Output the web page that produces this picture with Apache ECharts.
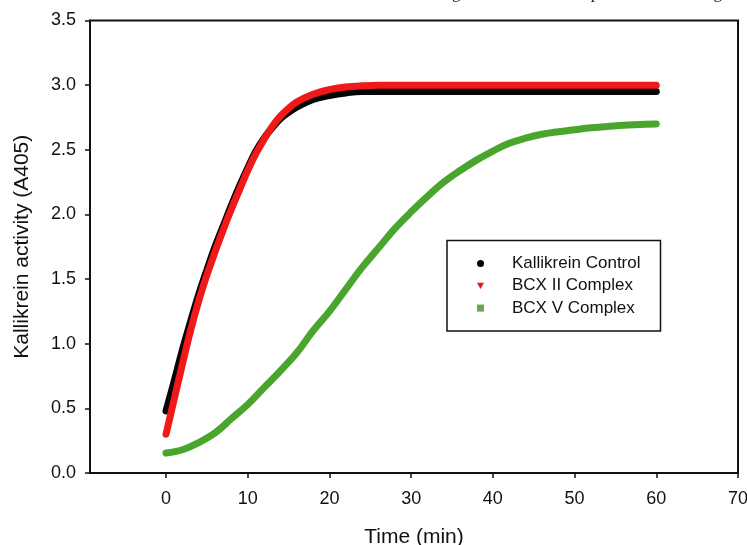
<!DOCTYPE html>
<html>
<head>
<meta charset="utf-8">
<script src="https://cdn.jsdelivr.net/npm/echarts@6/dist/echarts.min.js"></script>
<style>
html,body{margin:0;padding:0;background:#fff;}
#c{width:747px;height:545px;}
</style>
</head>
<body>
<div id="c"></div>
<script>
// ---- data ----
const xTicks = [0, 10, 20, 30, 40, 50, 60, 70];
const yTicks = [0, 0.5, 1.0, 1.5, 2.0, 2.5, 3.0, 3.5];
const seriesNames = ['Kallikrein Control', 'BCX II Complex', 'BCX V Complex'];

const timeFast = [0, 1, 2, 3, 4, 5, 6, 7, 8, 9, 10, 11, 12, 13, 14, 15, 16, 18, 20, 22, 24, 26, 30, 40, 50, 60];
const controlValues = [0.48, 0.71, 0.95, 1.17, 1.38, 1.57, 1.75, 1.91, 2.07, 2.22, 2.36, 2.49, 2.59, 2.67, 2.74, 2.79, 2.83, 2.89, 2.92, 2.94, 2.95, 2.95, 2.95, 2.95, 2.95, 2.95];
const bcx2Values    = [0.30, 0.57, 0.84, 1.10, 1.33, 1.53, 1.71, 1.88, 2.04, 2.19, 2.34, 2.47, 2.58, 2.68, 2.76, 2.82, 2.87, 2.93, 2.965, 2.985, 2.995, 3.0, 3.0, 3.0, 3.0, 3.0];

const timeSlow = [0, 2, 4, 6, 8, 10, 12, 14, 16, 18, 20, 22, 24, 26, 28, 30, 32, 34, 36, 38, 40, 42, 44, 46, 48, 50, 52, 54, 56, 58, 60];
const bcx5Values = [0.155, 0.18, 0.235, 0.31, 0.42, 0.53, 0.66, 0.79, 0.93, 1.10, 1.25, 1.42, 1.59, 1.74, 1.89, 2.02, 2.14, 2.25, 2.34, 2.42, 2.49, 2.55, 2.59, 2.62, 2.64, 2.655, 2.67, 2.68, 2.69, 2.695, 2.70];

const headerText = 'ge of the whole complete loss of the signal';

const pairs = (xs, ys) => xs.map((x, i) => [x, ys[i]]);

const chart = echarts.init(document.getElementById('c'), null, {renderer: 'canvas'});
const FONT = 'Liberation Sans';
const downTri = 'path://M0,0 L10,0 L5,9 Z';

chart.setOption({
  backgroundColor: '#ffffff',
  animation: false,
  grid: {left: 90, right: 9, top: 20.5, bottom: 72, show: true, borderColor: '#111', borderWidth: 2,
         backgroundColor: 'transparent', containLabel: false, outerBoundsMode: 'none'},
  xAxis: {
    type: 'value', min: -9.3, max: 70,
    name: 'Time (min)', nameLocation: 'middle', nameGap: 54,
    nameTextStyle: {fontFamily: FONT, fontSize: 21, color: '#111'},
    axisLine: {show: true, onZero: false, lineStyle: {color: '#111', width: 2}},
    axisTick: {show: true, inside: false, length: 5, lineStyle: {color: '#111', width: 1.5}, customValues: xTicks},
    axisLabel: {fontFamily: FONT, fontSize: 18, color: '#111', margin: 17, customValues: xTicks, formatter: v => String(v)},
    splitLine: {show: false}
  },
  yAxis: {
    type: 'value', min: 0, max: 3.5, interval: 0.5,
    name: 'Kallikrein activity (A405)', nameLocation: 'middle', nameGap: 57,
    nameTextStyle: {fontFamily: FONT, fontSize: 21, color: '#111'},
    axisLine: {show: true, onZero: false, lineStyle: {color: '#111', width: 2}},
    axisTick: {show: true, inside: false, length: 5, lineStyle: {color: '#111', width: 1.5}},
    axisLabel: {fontFamily: FONT, fontSize: 18, color: '#111', margin: 14, formatter: v => v.toFixed(1)},
    splitLine: {show: false}
  },
  legend: {
    orient: 'vertical', left: 447, top: 240.5,
    padding: [14.5, 20, 14.5, 30],
    borderColor: '#111', borderWidth: 1.5, backgroundColor: '#fff',
    itemWidth: 7, itemHeight: 7, itemGap: 5.3,
    textStyle: {fontFamily: FONT, fontSize: 17, color: '#111', padding: [0, 0, 0, 23]},
    data: [
      {name: seriesNames[0], icon: 'circle', itemStyle: {color: '#000'}},
      {name: seriesNames[1], icon: downTri, itemStyle: {color: '#e8141c'}},
      {name: seriesNames[2], icon: 'rect', itemStyle: {color: '#6aa650'}}
    ]
  },
  graphic: [{
    type: 'text', left: 452, top: -15,
    style: {text: headerText, font: '17px "Liberation Serif"', fill: '#222'}
  }],
  series: [
    {name: seriesNames[0], type: 'line', data: pairs(timeFast, controlValues), smooth: 0.4, showSymbol: false,
     color: '#000', lineStyle: {color: '#050505', width: 7, cap: 'round'}, z: 2},
    {name: seriesNames[1], type: 'line', data: pairs(timeFast, bcx2Values), smooth: 0.4, showSymbol: false,
     color: '#e8141c', lineStyle: {color: '#f01818', width: 7, cap: 'round'}, z: 3},
    {name: seriesNames[2], type: 'line', data: pairs(timeSlow, bcx5Values), smooth: 0.4, showSymbol: false,
     color: '#6aa650', lineStyle: {color: '#4aa52c', width: 7, cap: 'round'}, z: 4}
  ]
});
</script>
</body>
</html>
